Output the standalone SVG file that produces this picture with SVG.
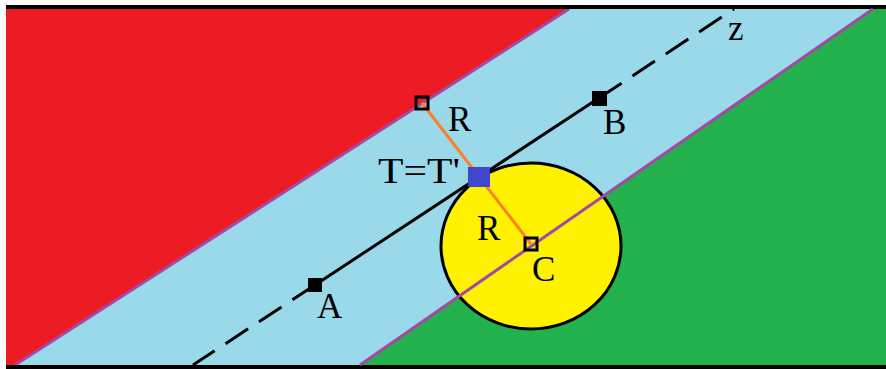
<svg xmlns="http://www.w3.org/2000/svg" width="886" height="369" viewBox="0 0 886 369">
<style>
.lbl{font-family:"Liberation Serif","Times New Roman",serif;font-size:35px;fill:#000}
.purple{stroke:#a349a4;stroke-width:3;fill:none}
.zline{stroke:#000;stroke-width:3;fill:none}
.dash{stroke-dasharray:27 13}
.pt{fill:#000}
.hollow{fill:none;stroke:#000;stroke-width:3}
</style>
<rect x="0" y="0" width="886" height="369" fill="#fff"/>
<g id="background">
<rect x="6" y="9" width="880" height="356" fill="#99d9ea"/>
<polygon points="6,9 569,9 15,365 6,365" fill="#ed1c24"/>
<polygon points="873,9 886,9 886,365 360,365" fill="#22b14c"/>
<line class="purple" x1="569" y1="9" x2="15" y2="365"/>
<rect x="6" y="5" width="880" height="4" fill="#000"/>
<rect x="6" y="365" width="880" height="4" fill="#000"/>
</g>
<g id="circle">
<ellipse cx="531" cy="246" rx="90" ry="83" fill="#fff200" stroke="#000" stroke-width="3"/>
</g>
<g id="boundary-green">
<line class="purple" x1="873" y1="9" x2="360" y2="365"/>
</g>
<g id="connectors">
<line x1="422" y1="103" x2="531" y2="244" stroke="#ff7f27" stroke-width="3"/>
<path class="zline dash" d="M315,285 L193,365"/>
<path class="zline" d="M315,285 L599,98"/>
<path class="zline dash" d="M599,98 L734,9"/>
</g>
<g id="node-A">
<rect class="pt" x="308" y="278" width="14" height="14"/>
<text class="lbl" x="317" y="318">A</text>
</g>
<g id="node-B">
<rect class="pt" x="592" y="91" width="15" height="15"/>
<text class="lbl" x="603" y="134">B</text>
</g>
<g id="node-T">
<rect x="468" y="167" width="22" height="20" fill="#3f48cc"/>
<text class="lbl" x="378" y="183" textLength="82" lengthAdjust="spacingAndGlyphs">T=T'</text>
</g>
<g id="node-P">
<rect class="hollow" x="416" y="97" width="12" height="12"/>
<text class="lbl" x="448" y="131">R</text>
</g>
<g id="node-C">
<rect class="hollow" x="525" y="238" width="12" height="12"/>
<text class="lbl" x="477" y="240">R</text>
<text class="lbl" x="532" y="281">C</text>
</g>
<g id="label-z">
<text class="lbl" x="728" y="40">z</text>
</g>
</svg>
